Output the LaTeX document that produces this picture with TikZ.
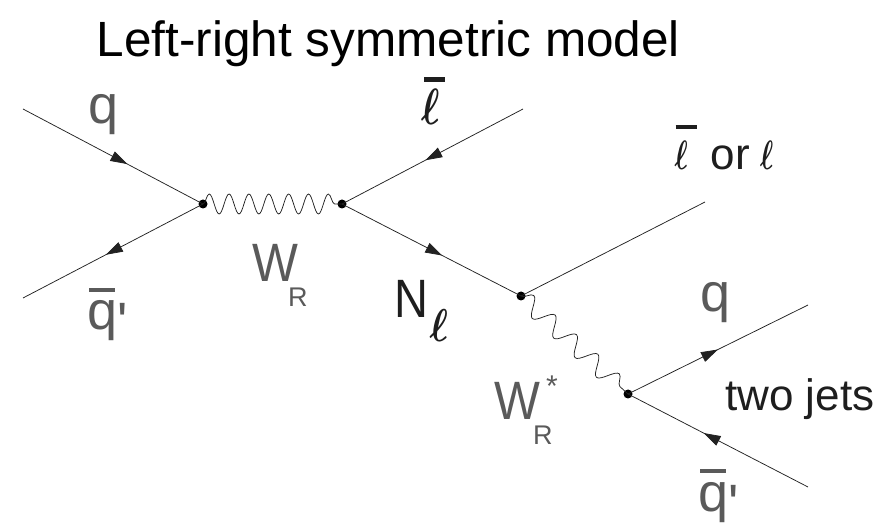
\documentclass[tikz,border=0pt]{standalone}
\usepackage{graphicx}
\usepackage{fontspec}
\setmainfont{Liberation Sans}
\newfontfamily\lab{Liberation Sans}
\usetikzlibrary{arrows.meta,decorations.markings,decorations.pathmorphing}
\definecolor{labgray}{HTML}{5A5A5A}
\definecolor{labblack}{HTML}{1E1E1E}
\definecolor{linecol}{HTML}{222222}
\newcommand\myell[2]{\scalebox{#1}[#2]{\fontsize{10}{12}\selectfont\boldmath$\ell$}}
\tikzset{
  plainline/.style={draw=linecol, line width=0.75pt},
  fermion/.style={plainline, postaction={decorate},
    decoration={markings, mark=at position #1 with {\arrow{Triangle[length=17pt,width=10.5pt]}}}},
  wboson/.style={draw=linecol, line width=0.75pt, decorate,
    decoration={snake, segment length=19.86pt, amplitude=10pt}},
  wstar/.style={draw=linecol, line width=0.75pt, decorate,
    decoration={snake, segment length=29pt, amplitude=9pt}},
  vtx/.style={circle, fill=black, inner sep=0pt, minimum size=9pt},
  glab/.style={text=labgray, font=\lab\fontsize{54}{54}\selectfont, inner sep=0pt, anchor=base west},
  blab/.style={text=labblack, font=\lab\fontsize{54}{54}\selectfont, inner sep=0pt, anchor=base west},
  slab/.style={text=labblack, font=\lab\fontsize{44}{44}\selectfont, inner sep=0pt, anchor=base west},
}
\begin{document}
\begin{tikzpicture}[x=1pt,y=-1pt]
\useasboundingbox (0,0) rectangle (889,526);

\node[anchor=base, font=\lab\fontsize{49.5}{50}\selectfont, text=black, inner sep=0pt] (title) at (388.5,57) {Left-right symmetric model};

% vertices
\node[vtx] (A) at (203,204) {};
\node[vtx] (B) at (342,204) {};
\node[vtx] (C) at (521,296) {};
\node[vtx] (D) at (628,394) {};

% free ends
\coordinate (qin) at (23,109);
\coordinate (qbout) at (23,298);
\coordinate (lbin) at (523,109);
\coordinate (lout) at (705,202);
\coordinate (qout) at (808,305);
\coordinate (qbin) at (808,487);

% lines
\draw[fermion=0.58] (qin) -- (A.center);
\draw[fermion=0.54] (A.center) -- (qbout);
\draw[wboson] (A.center) -- (B.center);
\draw[fermion=0.54] (lbin) -- (B.center);
\draw[fermion=0.56] (B.center) -- (C.center);
\draw[plainline] (C.center) -- (lout);
\draw[wstar] (C.center) -- (D.center);
\draw[fermion=0.5] (D.center) -- (qout);
\draw[fermion=0.58] (qbin) -- (D.center);

% labels
\node[glab] (qL) at (88,124) {q};
\node[glab] (qbL) at (87,330) {\rlap{\hspace{2pt}\raisebox{38pt}{\rule{26pt}{4pt}}}q\raisebox{-11pt}{'}};
\node[glab] (WR) at (252,282) {\scalebox{0.9}[1]{W}\kern-10pt\raisebox{-25pt}{\fontsize{27}{27}\selectfont R}};
\node[blab] (Nl) at (394.5,318) {\scalebox{0.87}[1]{N}\kern1pt\raisebox{-24pt}{\myell{3.9}{4.6}}};
\node[blab] (lbT) at (421,125) {\rlap{\hspace{3pt}\raisebox{43pt}{\rule{21pt}{5pt}}}\myell{3.9}{5.1}};
\node[slab] (lorl) at (674.5,170) {\rlap{\hspace{1pt}\raisebox{41pt}{\rule{21pt}{4pt}}}\myell{2.8}{4.1}\hspace{23pt}or\hspace{10pt}\myell{2.8}{4.1}};
\node[glab] (qR) at (700,312) {q};
\node[slab] (jets) at (725,411) {two jets};
\node[glab] (qbR) at (698,511) {\rlap{\hspace{2pt}\raisebox{38pt}{\rule{26pt}{4pt}}}q\raisebox{-11pt}{'}};
\node[glab] (WRs) at (494,420) {\scalebox{0.9}[1]{W}\kern-7pt\rlap{\hspace{13pt}\raisebox{23.5pt}{\fontsize{30}{30}\selectfont *}}\raisebox{-25pt}{\fontsize{27}{27}\selectfont R}};
\end{tikzpicture}
\end{document}
